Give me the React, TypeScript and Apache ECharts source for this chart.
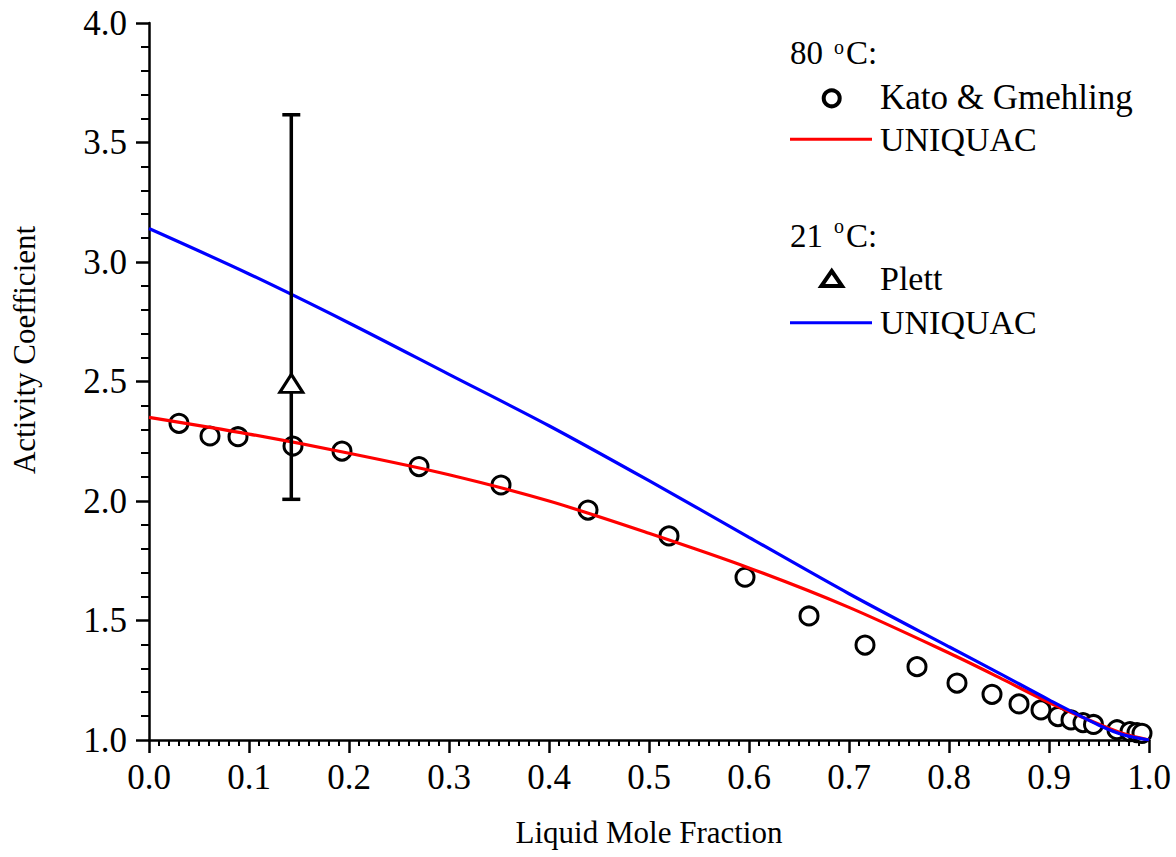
import React, { useEffect, useRef } from "react";
import * as echarts from "echarts";

// Kato & Gmehling, 80 °C: [liquid mole fraction, activity coefficient]
const katoPoints: [number, number][] = [
  [0.030, 2.325], [0.061, 2.272], [0.089, 2.269], [0.144, 2.230], [0.193, 2.209],
  [0.270, 2.144], [0.352, 2.067], [0.439, 1.962], [0.520, 1.854], [0.596, 1.681],
  [0.660, 1.519], [0.716, 1.397], [0.768, 1.307], [0.808, 1.238], [0.843, 1.191],
  [0.870, 1.151], [0.892, 1.126], [0.909, 1.098], [0.922, 1.084], [0.934, 1.073],
  [0.9445, 1.065], [0.968, 1.043], [0.981, 1.035], [0.988, 1.031], [0.993, 1.028],
];

// UNIQUAC fit, 80 °C
const uniquac80: [number, number][] = [
  [0, 2.35], [0.1, 2.28], [0.2, 2.2], [0.3, 2.11], [0.4, 2.0], [0.5, 1.865],
  [0.6, 1.72], [0.7, 1.555], [0.8, 1.364], [0.85, 1.262], [0.9, 1.157],
  [0.95, 1.066], [0.975, 1.026], [1.0, 1.0],
];

// UNIQUAC fit, 21 °C
const uniquac21: [number, number][] = [
  [0, 3.14], [0.1, 2.95], [0.2, 2.745], [0.3, 2.53], [0.4, 2.315], [0.5, 2.085],
  [0.6, 1.848], [0.7, 1.612], [0.8, 1.39], [0.85, 1.28], [0.9, 1.168],
  [0.95, 1.062], [0.975, 1.021], [1.0, 1.0],
];

// Plett, 21 °C: point and its error bar [x, low, high]
const plettPoint: [number, number][] = [[0.1423, 2.492]];
const plettError: [number, number, number][] = [[0.1423, 2.007, 3.616]];

const xTicks = { min: 0, max: 1, interval: 0.1 };
const yTicks = { min: 1, max: 4, interval: 0.5 };

const FONT = "'Liberation Serif', 'Times New Roman', serif";

export default function App() {
  const ref = useRef<HTMLDivElement>(null);

  useEffect(() => {
    if (!ref.current) return;
    const chart = echarts.init(ref.current, undefined, { renderer: "svg" });

    const legendText = (x: number, y: number, text: string, size = 34) => ({
      type: "text",
      x,
      y,
      style: { text, font: `${size}px ${FONT}`, fill: "#000", align: "left", verticalAlign: "middle" },
    });

    chart.setOption({
      animation: false,
      backgroundColor: "#fff",
      textStyle: { fontFamily: FONT, color: "#000" },
      grid: { left: 149, right: 27, top: 23, bottom: 117, containLabel: false },
      xAxis: {
        type: "value",
        min: xTicks.min,
        max: xTicks.max,
        interval: xTicks.interval,
        name: "Liquid Mole Fraction",
        nameLocation: "middle",
        nameGap: 77,
        nameTextStyle: { fontFamily: FONT, fontSize: 31, color: "#000" },
        axisLine: { show: true, lineStyle: { color: "#000", width: 2.5 } },
        axisTick: { show: true, inside: false, length: 13, lineStyle: { color: "#000", width: 2.5 } },
        minorTick: { show: true, splitNumber: 10, length: 6, lineStyle: { color: "#000", width: 2 } },
        splitLine: { show: false },
        axisLabel: {
          fontFamily: FONT,
          fontSize: 35,
          color: "#000",
          margin: 20,
          formatter: (v: number) => v.toFixed(1),
        },
      },
      yAxis: {
        type: "value",
        min: yTicks.min,
        max: yTicks.max,
        interval: yTicks.interval,
        axisLine: { show: true, lineStyle: { color: "#000", width: 2.5 } },
        axisTick: { show: true, inside: false, length: 13, lineStyle: { color: "#000", width: 2.5 } },
        minorTick: { show: true, splitNumber: 5, length: 8, lineStyle: { color: "#000", width: 2 } },
        splitLine: { show: false },
        axisLabel: {
          fontFamily: FONT,
          fontSize: 35,
          color: "#000",
          margin: 22,
          formatter: (v: number) => v.toFixed(1),
        },
      },
      series: [
        {
          name: "Kato & Gmehling",
          type: "scatter",
          data: katoPoints,
          symbol: "circle",
          symbolSize: 18,
          itemStyle: { color: "#fff", borderColor: "#000", borderWidth: 3, opacity: 1 },
          z: 1,
        },
        {
          name: "UNIQUAC 80 °C",
          type: "line",
          data: uniquac80,
          smooth: 0.3,
          showSymbol: false,
          lineStyle: { color: "#ff0000", width: 3.2 },
          z: 2,
        },
        {
          name: "UNIQUAC 21 °C",
          type: "line",
          data: uniquac21,
          smooth: 0.3,
          showSymbol: false,
          lineStyle: { color: "#0000ff", width: 3.2 },
          z: 3,
        },
        {
          name: "Plett error",
          type: "custom",
          data: plettError,
          z: 4,
          renderItem: (_params: any, api: any) => {
            const x = api.value(0);
            const low = api.coord([x, api.value(1)]);
            const high = api.coord([x, api.value(2)]);
            const half = 9;
            const style = { stroke: "#000", lineWidth: 3.5 };
            return {
              type: "group",
              children: [
                { type: "line", shape: { x1: low[0], y1: low[1], x2: high[0], y2: high[1] }, style },
                { type: "line", shape: { x1: high[0] - half, y1: high[1], x2: high[0] + half, y2: high[1] }, style },
                { type: "line", shape: { x1: low[0] - half, y1: low[1], x2: low[0] + half, y2: low[1] }, style },
              ],
            };
          },
        },
        {
          name: "Plett",
          type: "scatter",
          data: plettPoint,
          symbol: "triangle",
          symbolSize: [23, 18],
          itemStyle: { color: "#fff", borderColor: "#000", borderWidth: 3, opacity: 1 },
          z: 5,
        },
      ],
      graphic: [
        {
          type: "text",
          x: 24,
          y: 350,
          rotation: Math.PI / 2,
          style: {
            text: "Activity Coefficient",
            font: `31px ${FONT}`,
            fill: "#000",
            align: "center",
            verticalAlign: "middle",
          },
        },
        // 80 °C block
        legendText(790, 53, "80", 33),
        legendText(834, 47, "o", 20),
        legendText(846, 53, "C:", 33),
        {
          type: "circle",
          shape: { cx: 831.7, cy: 98.3, r: 8 },
          style: { fill: "#fff", stroke: "#000", lineWidth: 4 },
        },
        legendText(880, 97, "Kato & Gmehling", 35),
        {
          type: "line",
          shape: { x1: 790, y1: 139.3, x2: 872, y2: 139.3 },
          style: { stroke: "#ff0000", lineWidth: 3 },
        },
        legendText(880, 139, "UNIQUAC"),
        // 21 °C block
        legendText(790, 236, "21", 33),
        legendText(834, 226, "o", 20),
        legendText(846, 236, "C:", 33),
        {
          type: "polygon",
          shape: { points: [[831.7, 271], [842, 286], [821.4, 286]] },
          style: { fill: "#fff", stroke: "#000", lineWidth: 4, lineJoin: "miter" },
        },
        legendText(880, 278, "Plett"),
        {
          type: "line",
          shape: { x1: 790, y1: 322.7, x2: 872, y2: 322.7 },
          style: { stroke: "#0000ff", lineWidth: 3 },
        },
        legendText(880, 322, "UNIQUAC"),
      ],
    });

    return () => chart.dispose();
  }, []);

  return (
    <div
      ref={ref}
      style={{ position: "fixed", left: 0, top: 0, width: 1176, height: 857, background: "#fff" }}
    />
  );
}
